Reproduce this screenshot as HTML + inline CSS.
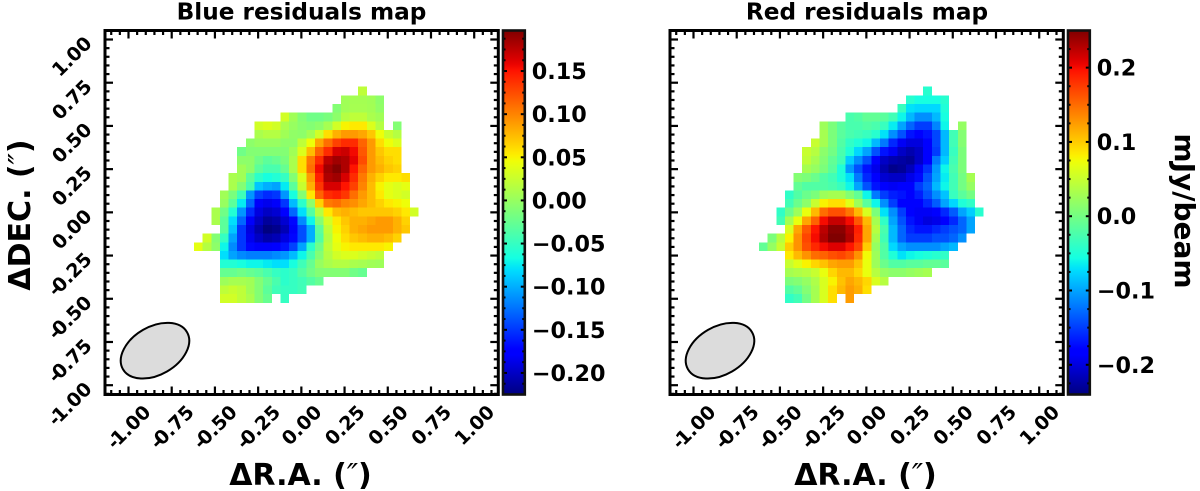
<!DOCTYPE html>
<html lang="en">
<head>
<meta charset="utf-8">
<title>Blue and red residuals maps</title>
<style>
html,body{margin:0;padding:0;background:#fff;}
svg{display:block;font-family:"DejaVu Sans","Liberation Sans",sans-serif;font-weight:bold;fill:#000;}
.prime{font-weight:normal;font-style:italic;}
</style>
</head>
<body>
<svg id="chart" xmlns="http://www.w3.org/2000/svg" width="1200" height="491" viewBox="0 0 1200 491">
  <defs>
    <linearGradient id="jet-blue" x1="0" y1="1" x2="0" y2="0"></linearGradient>
    <linearGradient id="jet-red" x1="0" y1="1" x2="0" y2="0"></linearGradient>
  </defs>
  <g id="panel-blue"></g>
  <g id="panel-red"></g>
  <text x="301.5" y="19.5" font-size="23.2" text-anchor="middle">Blue residuals map</text>
  <text x="867" y="19.5" font-size="23.2" text-anchor="middle">Red residuals map</text>
  <text x="300.5" y="485" font-size="30" text-anchor="middle">ΔR.A. (<tspan class="prime">″</tspan>)</text>
  <text x="865.5" y="485" font-size="30" text-anchor="middle">ΔR.A. (<tspan class="prime">″</tspan>)</text>
  <text transform="translate(30 215) rotate(-90)" font-size="30" text-anchor="middle">ΔDEC. (<tspan class="prime">″</tspan>)</text>
  <text transform="translate(1175 211) rotate(90)" font-size="28" text-anchor="middle">mJy/beam</text>
</svg>
<script>
// Map values in units of 0.01 mJy/beam; o = blank (masked) pixel. 26 columns x 25 rows.
const o = null;
const blueValues = [
[o,o,o,o,o,o,o,o,o,o,o,o,o,o,o,o,o,o,o,2],
[o,o,o,o,o,o,o,o,o,o,o,o,o,o,o,o,o,.5,.7,.7,.5,-.5],
[o,o,o,o,o,o,o,o,o,o,o,o,o,o,o,o,-1,.5,.8,.8,.6,-.3],
[o,o,o,o,o,o,o,o,o,o,3,.5,-1,-2,-2,-1.5,-.5,1.5,2,2,1,.5],
[o,o,o,o,o,o,o,3,3.5,3,1,0,-.7,-1,-.5,.8,3,5,5.5,5.5,3.5,1.5,o,-1],
[o,o,o,o,o,o,o,1,1.5,1.5,.5,-.3,-.5,.7,3,6,8,9,9,8.5,7,4.5,2.5,1.5],
[o,o,o,o,o,o,-.5,0,0,0,-.5,-.5,2,4.5,8.5,11,13,14,14,11.5,9,6,4.5,3.5],
[o,o,o,o,o,-2,-1,-1,-1,-1,-1,.5,3.5,7.5,11.5,14,16.5,17,15.5,12,9,7,6,6],
[o,o,o,o,o,-.5,-.5,-2,-3,-2.5,-1.5,1,6,10.5,14,17.5,18.5,18,16,12.5,9,7.5,6.5,6],
[o,o,o,o,o,.5,-.5,-3,-4,-4,-2.5,1,6,11,15.5,18.5,19.5,18,15,11.5,9,8,7,6.5],
[o,o,o,o,1,.5,-3,-5.5,-6.5,-6,-5,-1,3.5,9,14.5,18,18.5,16.5,14,10.5,8,6.5,5.5,5.5,6],
[o,o,o,o,1,-1,-4,-9,-10,-10.5,-7.5,-3,2.5,8,13.5,16.5,16.5,15,13,10,7.5,5,4,3.5,4],
[o,o,o,.5,-1.5,-4.5,-11,-14.5,-15.5,-15,-11,-6.5,-1,5.5,11.5,14,14.5,13.5,11,9,7.5,5.5,4,3.5,3],
[o,o,o,0,-3,-7.5,-13,-18,-18.5,-18,-15,-9.5,-5.5,-.5,6.5,10.5,11,10,9.5,8.5,7.5,6.5,5.5,5,4.5],
[o,o,1,-2,-6,-11,-15.5,-19,-20,-19.5,-17.5,-13,-8,-3.5,1.5,5.5,7.5,8,7.5,7,7,7,7,6.5,5.5,3],
[o,o,1,-3,-8,-13,-18,-20,-21.5,-21,-19.5,-17,-11.5,-7,-1,3,5.5,7,8,8,8.5,9,9,8,6.5],
[o,o,o,-3,-9,-15,-19,-21,-22.5,-22,-20.5,-18,-14,-10,-3,2,5,6.5,8,8.5,9,9,9,8,7],
[o,3,-1,-5,-10.5,-15,-18.5,-20,-21,-20.5,-19,-17,-14,-10,-3.5,1.5,4.5,6,7,7.5,8,8,7.5,6.5],
[4,1.5,-.5,-7,-11.5,-15,-17,-18,-18,-17.5,-16.5,-14.5,-10.5,-5.5,-2,2,4,5,5.5,5.5,5.5,5.5,5],
[o,o,o,-8,-10.5,-11.5,-12,-12,-12,-11.5,-11,-9.5,-7,-4,-1,1.5,3,3.5,3.5,3,2.5,2],
[o,o,o,-6,-6,-6.5,-7,-7,-7.5,-8,-8,-6.5,-4.5,-2.5,0,1,1.5,1.5,1,.8,.5,.3],
[o,o,o,-2.5,-2.5,-2,-2.5,-3,-4,-5,-5.5,-5,-3.5,-2,-1,-1,-1,-1,-2,-2.5],
[o,o,o,.3,.8,.8,.5,-1,-2.5,-4,-5.5,-5,-4.5,-3.5,-2.5],
[o,o,o,2,2.5,2,.5,-1,-3,-4.5,-5,-5,-4.5],
[o,o,o,3,3,2,1,-1,-2.5,o,-5]
];
const redValues = [
[o,o,o,o,o,o,o,o,o,o,o,o,o,o,o,o,o,o,o,-4.5],
[o,o,o,o,o,o,o,o,o,o,o,o,o,o,o,o,o,-4.5,-5.5,-5.5,-5.5,-4.5],
[o,o,o,o,o,o,o,o,o,o,o,o,o,o,o,o,-3.5,-7,-7.5,-7.5,-7.5,-5],
[o,o,o,o,o,o,o,o,o,o,-2.5,-2,-1,-1,-1.5,-3,-6,-9,-11,-11,-9,-5.5],
[o,o,o,o,o,o,o,2.5,.5,-1.5,-2.5,-2.5,-2,-2.5,-3.5,-6.5,-10,-13,-15,-15,-11.5,-6,o,2],
[o,o,o,o,o,o,o,3,.5,-1.5,-2.5,-3,-3.5,-4.5,-7,-11,-14,-17,-18,-17,-14.5,-9,-3,1],
[o,o,o,o,o,o,5,3,.5,-2,-4,-5,-6,-9,-12,-16,-19,-20,-20,-18,-14.5,-9,-3,1],
[o,o,o,o,o,5,4,1.5,0,-2.5,-5,-7.5,-10,-14,-17,-19,-21,-22,-21,-18,-15,-9,-3.5,.5],
[o,o,o,o,o,4.5,3,1,-1,-3,-8,-11,-14,-18,-21,-22,-22.5,-23,-21,-18,-12,-8,-3,.5],
[o,o,o,o,o,3,2,.5,-1.5,-5,-10.5,-14,-17,-19.5,-22,-23.5,-23,-21.5,-19,-15.5,-10.5,-6,-2.5,.5],
[o,o,o,o,1,.5,-.5,-2,-3,-5,-7,-12,-16,-18,-20.5,-21,-21,-19.5,-17.5,-14,-10,-6.5,-3,0,3],
[o,o,o,o,-1,-2,-2,-2,-2.5,-3.5,-6,-10,-14,-17,-18,-19,-18.5,-18,-15,-13,-9,-6,-3,0,2],
[o,o,o,-4,-2,-.5,.5,2.5,3,3,1,-1,-6,-12,-15,-16.5,-17,-18,-16.5,-14,-11,-8.5,-3.5,-1.5,0],
[o,o,o,-3,-.5,1.5,5,8,9,9,6.5,2.5,-1.5,-6,-11,-15,-18,-18.5,-18,-16,-13.5,-10,-7.5,-5,-4],
[o,o,-4,-.5,2.5,7,11,15,16.5,16.5,14.5,11,6,.5,-7,-11,-15,-18.5,-19,-19,-18,-16,-13.5,-10,-8,-4.5],
[o,o,-3,3,7,12,15.5,20,22,22,20,16,11,3,-4,-10,-14,-17,-19,-20,-19.5,-18.5,-16,-13,-10],
[o,o,o,6,12,16,19.5,22.5,24.5,24.5,22.5,19,12,4,-2.5,-9,-13,-16,-17,-17,-16,-15,-14,-13,-10],
[o,.5,4,8,13,17,20,23,25,25,23,18.5,12,3,-3,-9,-13,-15,-15,-15,-14,-14,-13,-11],
[-1,2,5,10,13,16.5,18.5,20,21,21,19.5,17,10,2,-2,-7.5,-10,-11,-11,-11,-11,-10,-9],
[o,o,o,8.5,11,13,15,15.5,16.5,17,16,13,7.5,2.5,-2,-5,-7,-6,-5.5,-5,-4.5,-4],
[o,o,o,5,6.5,8,9.5,10.5,12,12.5,12.5,10.5,7,2.5,-.5,-2,-2,-1.5,-1.5,-1,-1,-1.5],
[o,o,o,3,3.5,4,5,7,9.5,11,11,9.5,7,4,2,1.5,1.5,2,2.5,3],
[o,o,o,.5,1,2,3.5,6,8,10.5,12,11,9.5,6,4],
[o,o,o,-2,-1,1,3,6,9,11,12.5,11.5,9],
[o,o,o,-4,-3,0,3,6,9,o,12.5]
];
const blueRange = [-22.5, 19.7];
const redRange = [-24, 25];
const blueCbarTicks = [-20, -15, -10, -5, 0, 5, 10, 15];
const redCbarTicks = [-20, -10, 0, 10, 20];
const blueCbarMinorStep = [1.25];
const redCbarMinorStep = [2.5];
const blueCbarDigits = [2];
const redCbarDigits = [1];
const raTicks = [-1, -0.75, -0.5, -0.25, 0, 0.25, 0.5, 0.75, 1];
const decTicks = [-1, -0.75, -0.5, -0.25, 0, 0.25, 0.5, 0.75, 1];
const minorTickStep = [0.05];
const mapOriginRA = [-0.621];
const mapOriginDec = [0.727];
const pixelScale = [0.05];

const NS = 'http://www.w3.org/2000/svg';
function mk(parent, tag, attrs) {
  const el = document.createElementNS(NS, tag);
  for (const k in attrs) el.setAttribute(k, attrs[k]);
  parent.appendChild(el);
  return el;
}
function lerp(knots, t) {
  for (let i = 1; i < knots.length; i++) {
    if (t <= knots[i][0]) {
      const a = knots[i - 1], b = knots[i];
      return a[1] + (b[1] - a[1]) * (t - a[0]) / (b[0] - a[0]);
    }
  }
  return knots[knots.length - 1][1];
}
const jetR = [[0,0],[.35,0],[.66,1],[.89,1],[1,.5]];
const jetG = [[0,0],[.125,0],[.375,1],[.64,1],[.91,0],[1,0]];
const jetB = [[0,.5],[.11,1],[.34,1],[.65,0],[1,0]];
function jet(t) {
  t = Math.max(0, Math.min(1, t));
  const c = k => Math.round(255 * lerp(k, t));
  return 'rgb(' + c(jetR) + ',' + c(jetG) + ',' + c(jetB) + ')';
}
function fillTickLabel(t, v) {
  const s = Math.abs(v).toFixed(2);
  if (v < 0) {
    const h = mk(t, 'tspan', {'letter-spacing': '-2.5'});
    h.textContent = '-';
  }
  t.appendChild(document.createTextNode(s));
}

const SCALE = 172.85;
function drawPanel(id, gradId, left, values, range, cbTicks, cbStep, cbDigits, prefix) {
  const g = document.getElementById(id);
  const right = left + 393.3, top = 30.5, bottom = 394.5;
  const xOf = ra => left + 23.5 + (ra + 1) * SCALE;
  const yOf = dec => 39.5 + (1 - dec) * SCALE;
  const norm = v => (v - range[0]) / (range[1] - range[0]);

  // heatmap cells
  const cells = mk(g, 'g', {'shape-rendering': 'crispEdges'});
  
  
  const step = pixelScale[0];
  values.forEach((row, j) => {
    row.forEach((v, i) => {
      if (v === null) return;
      const x0 = xOf(mapOriginRA[0] + i * step), x1 = xOf(mapOriginRA[0] + (i + 1) * step);
      const y0 = yOf(mapOriginDec[0] - j * step), y1 = yOf(mapOriginDec[0] - (j + 1) * step);
      const r = mk(cells, 'rect', {x: x0, y: y0, width: x1 - x0, height: y1 - y0, fill: jet(norm(v))});
      
      
    });
  });

  // beam ellipse
  const beam = mk(g, 'ellipse', {cx: left + 50, cy: 350.7, rx: 37, ry: 24, fill: '#dcdcdc', stroke: '#000', 'stroke-width': 2, transform: 'rotate(-30 ' + (left + 50) + ' 350.7)'});
  
  

  // ticks
  const ticks = mk(g, 'g', {stroke: '#000', 'stroke-width': 2.2, fill: 'none'});
  
  
  const MAJ = 8, MIN = 4.5;
  const minor = minorTickStep[0];
  for (let k = -24; k <= 24; k++) {
    const val = k * minor;
    const isMajor = k % 5 === 0;
    const len = isMajor ? MAJ : MIN;
    const x = xOf(val), y = yOf(val);
    if (x > left && x < right) {
      const a = mk(ticks, 'line', {x1: x, x2: x, y1: bottom, y2: bottom - len});
      
      
      const b = mk(ticks, 'line', {x1: x, x2: x, y1: top, y2: top + len});
      
      
    }
    if (y > top && y < bottom) {
      const a = mk(ticks, 'line', {y1: y, y2: y, x1: left, x2: left + len});
      
      
      const b = mk(ticks, 'line', {y1: y, y2: y, x1: right, x2: right - len});
      
      
    }
  }

  // spines
  const frame = mk(g, 'rect', {x: left, y: top, width: right - left, height: bottom - top, fill: 'none', stroke: '#000', 'stroke-width': 3});
  
  

  // tick labels
  const FS = 19, H = 13.8;
  raTicks.forEach(v => {
    const t = mk(g, 'text', {'font-size': FS, 'text-anchor': 'end'});
    
    
    fillTickLabel(t, v);
    const w = t.getComputedTextLength();
    const px = xOf(v) + 0.3535 * (w + H), py = 403.5 + 0.707 * H;
    t.setAttribute('transform', 'translate(' + px + ' ' + py + ') rotate(-45)');
  });
  if (prefix === 'blue') {
    decTicks.forEach(v => {
      const t = mk(g, 'text', {'font-size': FS, 'text-anchor': 'end'});
      
      
      fillTickLabel(t, v);
      t.setAttribute('transform', 'translate(93 ' + (yOf(v) + 5) + ') rotate(-45)');
    });
  }

  // colorbar
  const cbL = right + 4.7, cbR = cbL + 21.8;
  const grad = document.getElementById(gradId);
  for (let i = 0; i <= 64; i++) {
    mk(grad, 'stop', {offset: i / 64, 'stop-color': jet(i / 64)});
  }
  const cbY = v => bottom + (top - bottom) * norm(v);
  const bar = mk(g, 'rect', {x: cbL, y: top, width: cbR - cbL, height: bottom - top, fill: 'url(#' + gradId + ')'});
  
  
  const cbt = mk(g, 'g', {stroke: '#000', 'stroke-width': 2, fill: 'none'});
  
  
  const st = cbStep[0];
  for (let v = Math.ceil(range[0] / st) * st; v <= range[1]; v += st) {
    const isMaj = cbTicks.some(m => Math.abs(m - v) < 1e-6);
    const len = isMaj ? 4 : 2.5, y = cbY(v);
    const a = mk(cbt, 'line', {x1: cbL, x2: cbL + len, y1: y, y2: y});
    
    
    const b = mk(cbt, 'line', {x1: cbR, x2: cbR - len, y1: y, y2: y});
    
    
  }
  const cbF = mk(g, 'rect', {x: cbL, y: top, width: cbR - cbL, height: bottom - top, fill: 'none', stroke: '#111', 'stroke-width': 2.6});
  
  
  cbTicks.forEach(v => {
    const t = mk(g, 'text', {'font-size': 22.3, x: cbR + 7, y: cbY(v) + 8});
    
    
    const s = Math.abs(v / 100).toFixed(cbDigits[0]);
    t.textContent = (v < 0 ? '\u2212' : '') + s;
  });
}
drawPanel('panel-blue', 'jet-blue', 105, blueValues, blueRange, blueCbarTicks, blueCbarMinorStep, blueCbarDigits, 'blue');
drawPanel('panel-red', 'jet-red', 670, redValues, redRange, redCbarTicks, redCbarMinorStep, redCbarDigits, 'red');
</script>
</body>
</html>
